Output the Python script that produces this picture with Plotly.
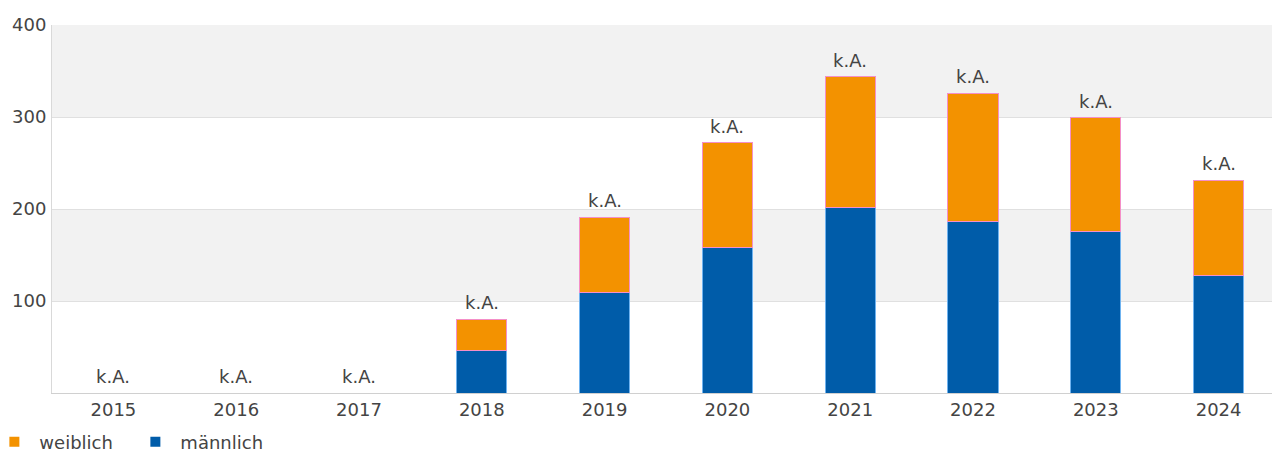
import plotly.graph_objects as go

years = ["2015", "2016", "2017", "2018", "2019", "2020", "2021", "2022", "2023", "2024"]
maennlich = [None, None, None, 46, 109, 158, 202, 186, 176, 128]
weiblich = [None, None, None, 34, 82, 114, 142, 140, 123, 103]
labels = ["k.A."] * 10
y_ticks = [100, 200, 300, 400]
bands = [(100, 200), (300, 400)]

C_W = "#f39200"
C_M = "#005ca9"
FONT = "DejaVu Sans"

fig = go.Figure()
fig.add_trace(go.Bar(
    x=years, y=maennlich, name="männlich", showlegend=False,
    marker=dict(color=C_M, line=dict(color="#6fb3f0", width=1)),
))
fig.add_trace(go.Bar(
    x=years, y=weiblich, name="weiblich", showlegend=False,
    marker=dict(color=C_W, line=dict(color="#f48fc8", width=1)),
))
# legend entries
fig.add_trace(go.Scatter(x=[None], y=[None], mode="markers", name="weiblich",
                         marker=dict(symbol="square", size=10, color=C_W)))
fig.add_trace(go.Scatter(x=[None], y=[None], mode="markers", name="männlich",
                         marker=dict(symbol="square", size=10, color=C_M)))

for i, yr in enumerate(years):
    m = maennlich[i] or 0
    w = weiblich[i] or 0
    fig.add_annotation(x=i, y=m + w, text=labels[i], showarrow=False,
                       yanchor="bottom", yshift=4,
                       font=dict(family=FONT, size=18, color="#444"))

for lo, hi in bands:
    fig.add_shape(type="rect", xref="paper", yref="y", x0=0, x1=1, y0=lo, y1=hi,
                  fillcolor="#f2f2f2", line=dict(width=0), layer="below")

# page body has an 8px margin -> figure is 8px smaller than the window
fig.update_layout(
    barmode="stack",
    bargap=0.592,
    width=1272, height=444,
    margin=dict(l=44, r=0, t=17, b=59, autoexpand=False),
    paper_bgcolor="white", plot_bgcolor="white",
    font=dict(family=FONT, size=18, color="#444"),
    legend=dict(orientation="h", x=-0.051, xanchor="left", y=-0.083, yanchor="top",
                traceorder="normal", font=dict(family=FONT, size=18, color="#444"),
                itemwidth=40, entrywidth=86, tracegroupgap=0),
    xaxis=dict(type="category", range=[-0.5, len(years) - 0.5],
               showline=True, linecolor="#d0d0d0", linewidth=1,
               ticks="", tickfont=dict(size=18, color="#444")),
    yaxis=dict(range=[0, 400], tickvals=y_ticks, showgrid=True, gridcolor="#e0e0e0",
               showline=True, linecolor="#d9d9d9", zeroline=False,
               ticks="", ticklabelstandoff=1,
               tickfont=dict(size=18, color="#444")),
)

fig.write_html("out.html")
